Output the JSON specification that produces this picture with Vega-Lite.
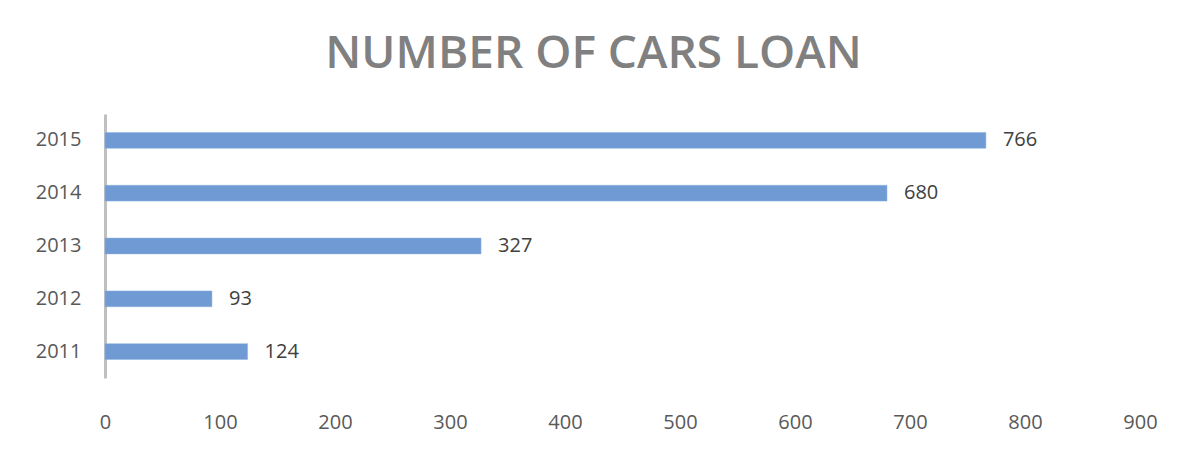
{
  "$schema": "https://vega.github.io/schema/vega-lite/v6.json",
  "width": 1035,
  "height": 264,
  "autosize": {"type": "none"},
  "padding": {"left": 105, "top": 114, "right": 49, "bottom": 81},
  "background": "white",
  "config": {"view": {"stroke": null}, "font": "Open Sans"},
  "title": {
    "text": "NUMBER OF CARS LOAN",
    "font": "Open Sans",
    "fontSize": 46,
    "fontWeight": 600,
    "color": "#808080",
    "anchor": "middle",
    "frame": "group",
    "dx": -29,
    "offset": 36
  },
  "data": {
    "values": [
      {"year": "2011", "loans": 124},
      {"year": "2012", "loans": 93},
      {"year": "2013", "loans": 327},
      {"year": "2014", "loans": 680},
      {"year": "2015", "loans": 766}
    ]
  },
  "encoding": {
    "y": {
      "field": "year",
      "type": "ordinal",
      "sort": "descending",
      "scale": {"paddingInner": 0.7, "paddingOuter": 0.35},
      "axis": {
        "title": null,
        "domain": true,
        "domainColor": "#bfbfbf",
        "domainWidth": 3,
        "ticks": false,
        "labelFontSize": 20,
        "labelColor": "#595959",
        "labelPadding": 24,
        "labelFont": "Open Sans"
      }
    },
    "x": {
      "field": "loans",
      "type": "quantitative",
      "scale": {"domain": [0, 900]},
      "axis": {
        "title": null,
        "values": [0, 100, 200, 300, 400, 500, 600, 700, 800, 900],
        "domain": false,
        "ticks": false,
        "grid": false,
        "labelFontSize": 20,
        "labelColor": "#595959",
        "labelPadding": 34,
        "labelFont": "Open Sans",
        "labelFlush": false
      }
    }
  },
  "layer": [
    {"mark": {"type": "bar", "color": "#6f9ad4", "stroke": "#8fb2e0", "strokeWidth": 0.5}},
    {
      "mark": {"type": "text", "align": "left", "dx": 17, "fontSize": 20, "color": "#404040", "font": "Open Sans"},
      "encoding": {"text": {"field": "loans", "type": "quantitative"}}
    }
  ]
}
